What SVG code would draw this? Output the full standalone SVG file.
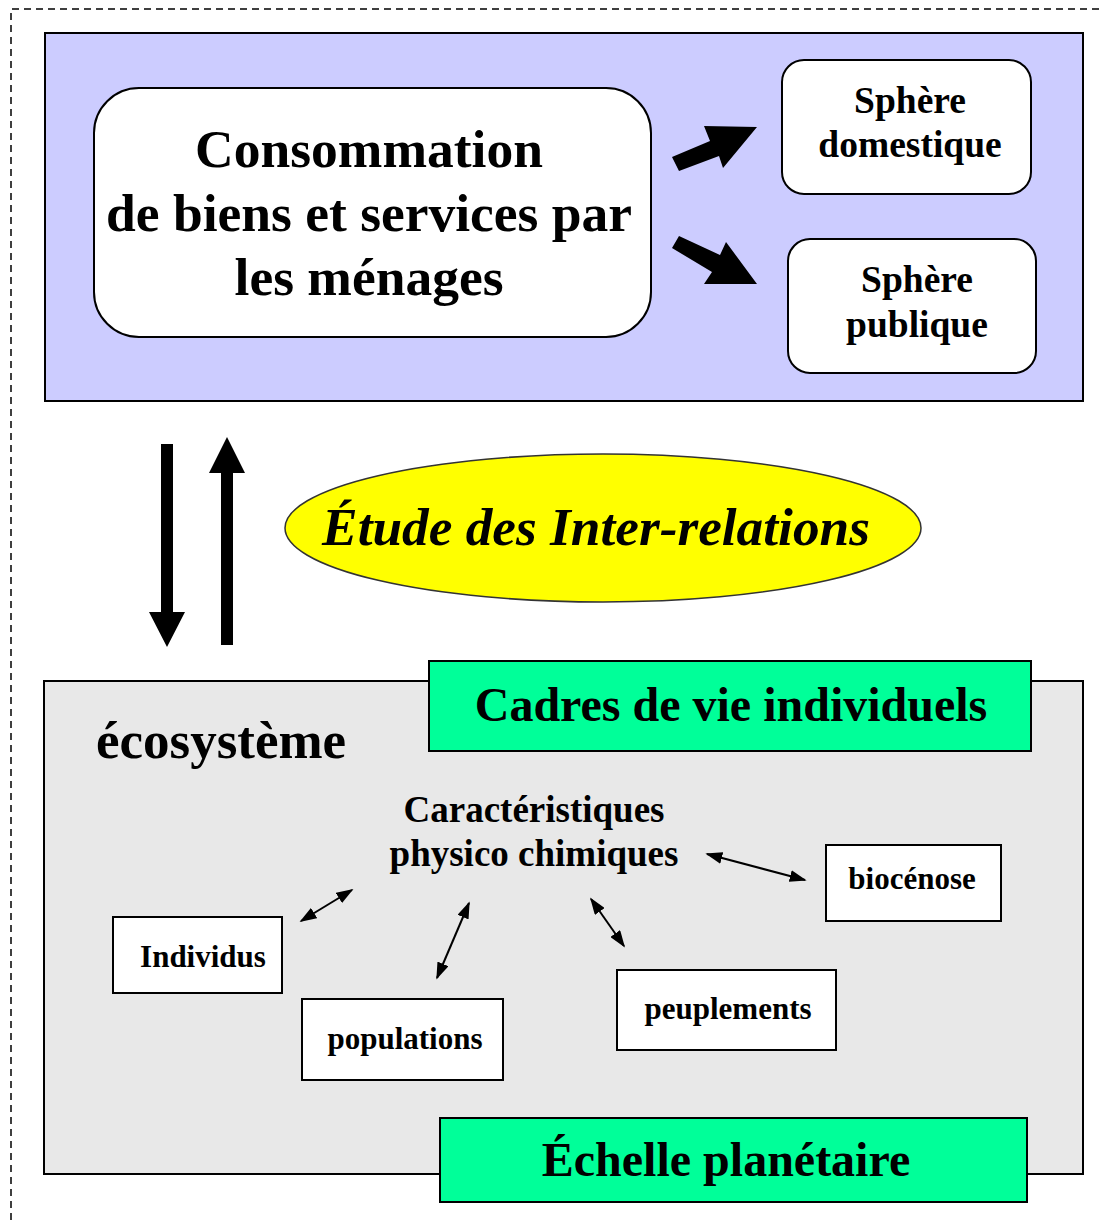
<svg xmlns="http://www.w3.org/2000/svg" width="1100" height="1220" viewBox="0 0 1100 1220">
<style>
text{font-family:"Liberation Serif","Times New Roman",serif;font-weight:bold;fill:#000;text-anchor:middle}
.box{fill:#fff;stroke:#000;stroke-width:2}
.green{fill:#00FF99;stroke:#000;stroke-width:2}
.thin{stroke:#000;stroke-width:2;fill:none;marker-start:url(#ah);marker-end:url(#ah)}
</style>
<defs>
<marker id="ah" viewBox="0 0 10 10" refX="9" refY="5" markerWidth="17" markerHeight="12" markerUnits="userSpaceOnUse" orient="auto-start-reverse" preserveAspectRatio="none">
<path d="M0,0 L10,5 L0,10 z" fill="#000"/>
</marker>
</defs>
<rect width="1100" height="1220" fill="#fff"/>
<path d="M11,1220 V9 H1100" fill="none" stroke="#000" stroke-width="1.5" stroke-dasharray="7,5"/>

<g id="top-frame">
<rect x="45" y="33" width="1038" height="368" fill="#CCCCFF" stroke="#000" stroke-width="2"/>
</g>
<g id="consommation">
<rect x="94" y="88" width="557" height="249" rx="45" class="box"/>
<text x="369" y="167" font-size="53.5">Consommation</text>
<text x="369" y="231" font-size="53.5">de biens et services par</text>
<text x="369" y="295" font-size="53.5">les ménages</text>
</g>
<g id="sphere-domestique">
<rect x="782" y="60" width="249" height="134" rx="22" class="box"/>
<text x="910" y="113" font-size="37.5">Sphère</text>
<text x="910" y="157" font-size="37.5">domestique</text>
</g>
<g id="sphere-publique">
<rect x="788" y="239" width="248" height="134" rx="22" class="box"/>
<text x="917" y="292" font-size="37.5">Sphère</text>
<text x="917" y="337" font-size="37.5">publique</text>
</g>

<g id="etude">
<ellipse cx="603" cy="528" rx="318" ry="74" fill="#FFFF00" stroke="#333" stroke-width="1.5"/>
<text x="596" y="545" font-size="53.3" font-style="italic">Étude des Inter-relations</text>
</g>

<g id="ecosysteme-frame">
<rect x="44" y="681" width="1039" height="493" fill="#E8E8E8" stroke="#000" stroke-width="2"/>
<text x="96" y="758" font-size="53" style="text-anchor:start">écosystème</text>
</g>
<g id="cadres">
<rect x="429" y="661" width="602" height="90" class="green"/>
<text x="731" y="721" font-size="48">Cadres de vie individuels</text>
</g>
<g id="echelle">
<rect x="440" y="1118" width="587" height="84" class="green"/>
<text x="726" y="1176" font-size="48">Échelle planétaire</text>
</g>
<g id="caracteristiques">
<text x="534" y="822" font-size="37">Caractéristiques</text>
<text x="534" y="866" font-size="37">physico chimiques</text>
</g>
<g id="biocenose">
<rect x="826" y="845" width="175" height="76" class="box"/>
<text x="912" y="889" font-size="31">biocénose</text>
</g>
<g id="individus">
<rect x="113" y="917" width="169" height="76" class="box"/>
<text x="203" y="967" font-size="31">Individus</text>
</g>
<g id="populations">
<rect x="302" y="999" width="201" height="81" class="box"/>
<text x="405" y="1049" font-size="31">populations</text>
</g>
<g id="peuplements">
<rect x="617" y="970" width="219" height="80" class="box"/>
<text x="728" y="1019" font-size="31">peuplements</text>
</g>

<g id="connectors">
<polygon points="672,157 710,141 704,126 757,127 723,168 719,156 679,171" fill="#000"/>
<polygon points="679,236 720,255 726,242 757,284 704,284 712,272 672,248" fill="#000"/>
<polygon points="161,444 173,444 173,612 185,612 167,647 149,612 161,612" fill="#000"/>
<polygon points="221,645 233,645 233,473 245,473 227,437 209,473 221,473" fill="#000"/>
<line x1="301" y1="921" x2="352" y2="890" class="thin"/>
<line x1="437" y1="978" x2="469" y2="903" class="thin"/>
<line x1="591" y1="899" x2="624" y2="946" class="thin"/>
<line x1="707" y1="854" x2="805" y2="880" class="thin"/>
</g>
</svg>
